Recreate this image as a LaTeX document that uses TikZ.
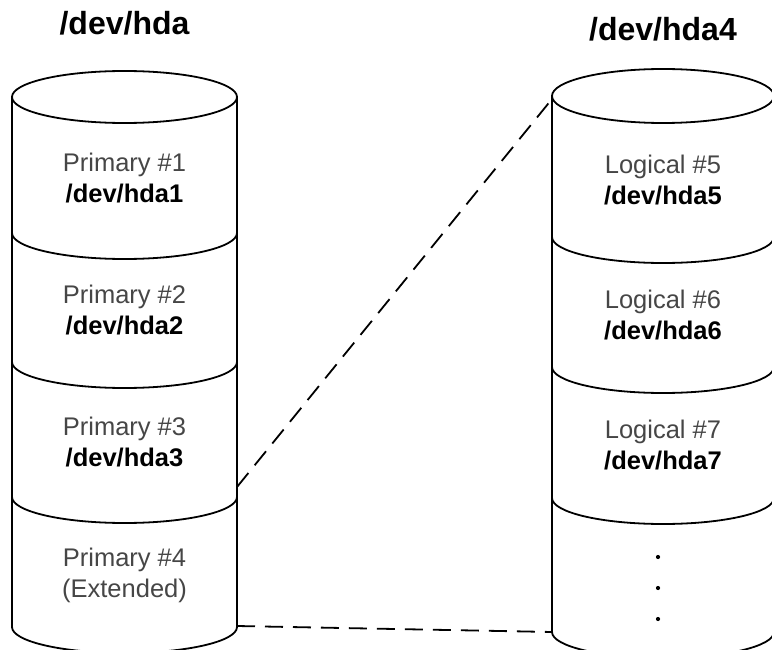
\documentclass[tikz,border=0pt]{standalone}
\usepackage{fontspec}
\setmainfont{Liberation Sans}
\usetikzlibrary{positioning}
\definecolor{LabelGray}{RGB}{70,70,70}

\begin{document}
\begin{tikzpicture}[x=1pt, y=1pt, line width=1.8pt,
    ttl/.style={font=\fontsize{32}{36}\selectfont\bfseries, anchor=base},
    lbl/.style={align=center, font=\fontsize{25.5}{31}\selectfont, text=LabelGray},
    link/.style={dash pattern=on 18pt off 10pt}]
  \useasboundingbox (0,-650) rectangle (772,0);
  \clip (0,-650) rectangle (772,0);
  % left disk
  \draw (124.5,-97) ellipse [x radius=112.5, y radius=26];
  \draw (12,-97) -- (12,-627) (237,-97) -- (237,-627);
  \foreach \y in {233,362,497,627}
    \draw (12,-\y) arc [start angle=180, end angle=360, x radius=112.5, y radius=26];
  % right disk
  \draw (663,-96) ellipse [x radius=111, y radius=27];
  \draw (552,-96) -- (552,-632) (774,-96) -- (774,-632);
  \foreach \y in {237,367,498,632}
    \draw (552,-\y) arc [start angle=180, end angle=360, x radius=111, y radius=26];
  % titles
  \node[ttl] (hda) at (124.5,-35) {/dev/hda};
  \node[ttl] (hda4) at (663,-41) {/dev/hda4};
  % partitions
  \node[lbl] (p1) at (124.5,-178) {Primary \#1\\\textcolor{black}{\textbf{/dev/hda1}}};
  \node[lbl] (p2) at (124.5,-310) {Primary \#2\\\textcolor{black}{\textbf{/dev/hda2}}};
  \node[lbl] (p3) at (124.5,-442) {Primary \#3\\\textcolor{black}{\textbf{/dev/hda3}}};
  \node[lbl] (p4) at (124.5,-575) {Primary \#4\\(Extended)};
  \node[lbl] (l5) at (663,-180) {Logical \#5\\\textcolor{black}{\textbf{/dev/hda5}}};
  \node[lbl] (l6) at (663,-315) {Logical \#6\\\textcolor{black}{\textbf{/dev/hda6}}};
  \node[lbl] (l7) at (663,-445) {Logical \#7\\\textcolor{black}{\textbf{/dev/hda7}}};
  \foreach \y in {557,588,619}
    \fill (658,-\y) circle [radius=2.1];
  % extended partition links
  \coordinate (ext-top) at (237,-487);
  \coordinate (log-top) at (552,-99);
  \coordinate (ext-bot) at (237,-626);
  \coordinate (log-bot) at (552,-632);
  \draw[link] (ext-top) -- (log-top);
  \draw[link] (ext-bot) -- (log-bot);
\end{tikzpicture}
\end{document}
